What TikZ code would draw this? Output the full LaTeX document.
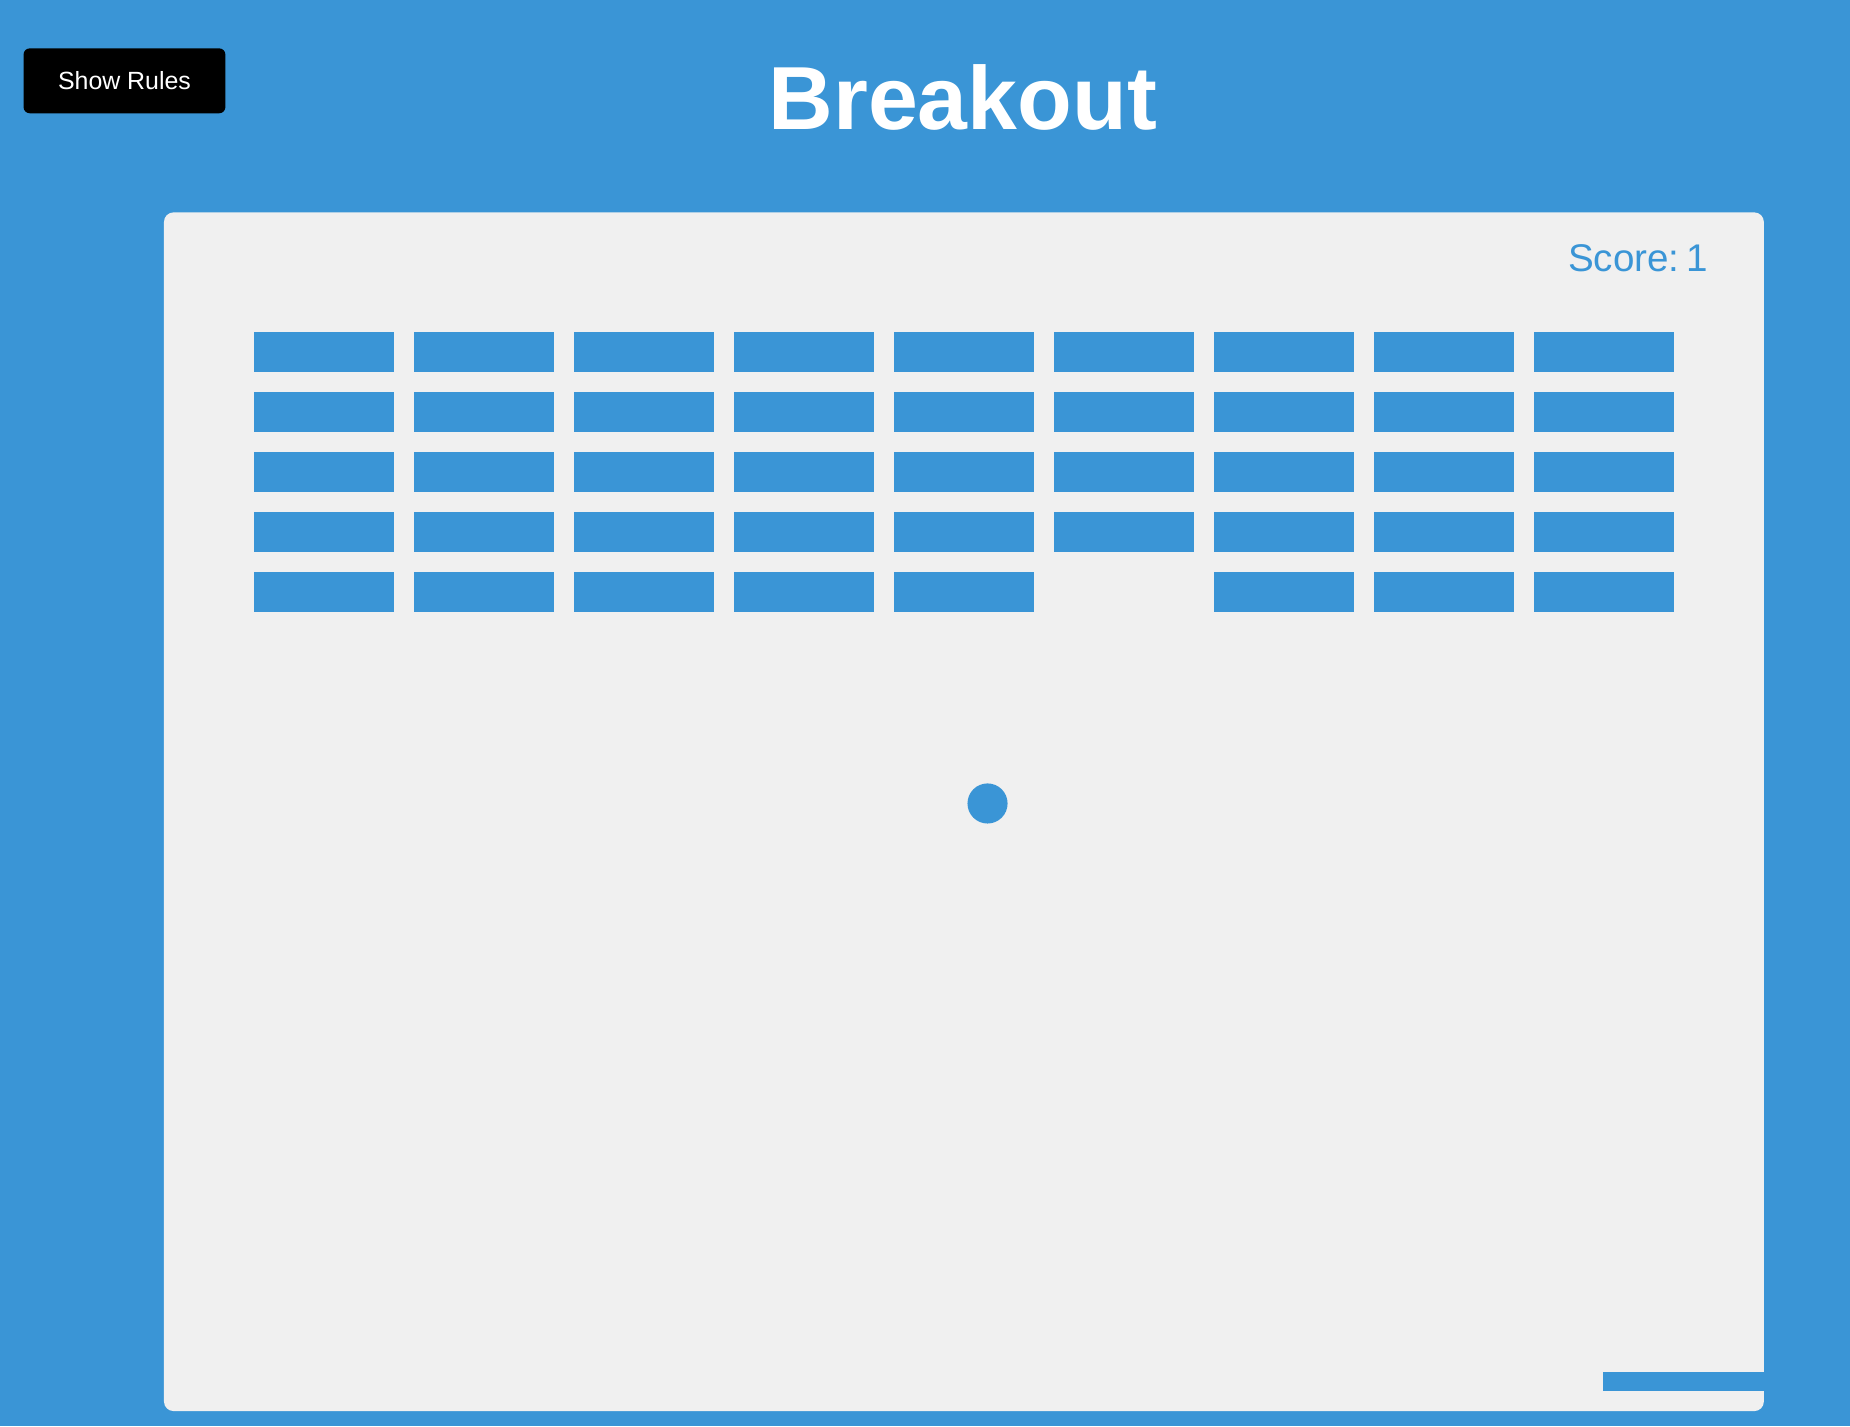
\documentclass[tikz,border=0pt]{standalone}
\usepackage{fontspec}
\setmainfont{Liberation Sans}
\usetikzlibrary{positioning}
\definecolor{skyblue}{RGB}{58,149,214}
\definecolor{board}{RGB}{240,240,240}
\tikzset{brick/.style={fill=skyblue}}

\begin{document}
\begin{tikzpicture}[x=0.01cm,y=-0.01cm]
\fill[skyblue] (0,0) rectangle (1568,1209);
\useasboundingbox (0,0) rectangle (1568,1209);
\node[fill=black, text=white, rounded corners=1.5pt, minimum width=1.71cm, minimum height=0.55cm, inner sep=0pt, font=\fontsize{6}{7}\selectfont] (rules) at (105.5,68.5) {Show Rules};
\node[anchor=base, text=white, font=\fontsize{21.6}{24}\selectfont\bfseries, inner sep=0pt] (title) at (816,110) {Breakout};
\fill[board, rounded corners=2.3pt] (139,180) rectangle (1495,1196);
\node[anchor=base east, text=skyblue, font=\fontsize{9.3}{11}\selectfont, inner sep=0pt] (score) at (1448,230) {Score:\,1};
\foreach \row in {0,...,4}
  \foreach \col in {0,...,8} {
    \ifnum\row\col=45 \else
      \fill[brick] ({215+135.6*\col},{281+51*\row}) rectangle ++(119,34);
    \fi
  }
\fill[skyblue] (837,681) circle (17);
\fill[skyblue] (1359,1163) rectangle (1495,1179);
\end{tikzpicture}
\end{document}
